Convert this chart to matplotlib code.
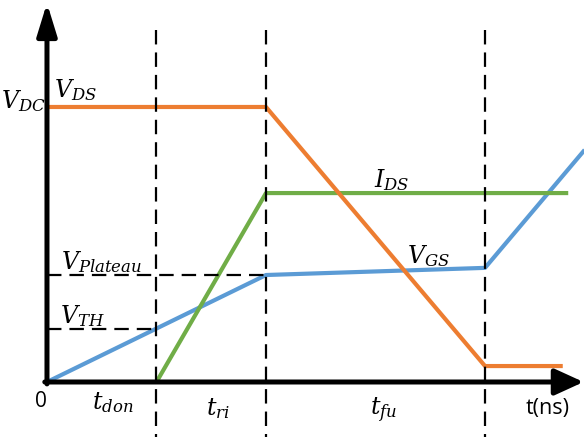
import numpy as np
import matplotlib.pyplot as plt

plt.rcParams['mathtext.fontset'] = 'dejavuserif'

# time breakpoints (t_don, t_ri, t_fu boundaries), arbitrary units
t_edges = [1.0, 2.0, 4.0]

# drain-source voltage
vds_t = [0.0, 2.0, 4.0, 4.71]
vds_v = [10.0, 10.0, 0.58, 0.58]

# drain current
ids_t = [1.0, 2.0, 4.76]
ids_v = [0.0, 6.87, 6.87]

# gate-source voltage
vgs_t = [0.0, 2.0, 4.0, 4.91]
vgs_v = [0.0, 3.89, 4.15, 8.44]

v_th = 1.93
v_plateau = 3.89

orange = '#ED7D31'
green = '#70AD47'
blue = '#5B9BD5'

fig = plt.figure(figsize=(5.84, 4.37), dpi=100)
ax = fig.add_axes([0, 0, 1, 1])
ax.set_xlim(-0.429, 4.904)
ax.set_ylim(-2.0, 13.89)
ax.axis('off')

# signals
ax.plot(vgs_t, vgs_v, color=blue, lw=3, solid_capstyle='butt', zorder=3)
ax.plot(ids_t, ids_v, color=green, lw=3, solid_capstyle='butt', zorder=3)
ax.plot(vds_t, vds_v, color=orange, lw=3, solid_capstyle='butt', zorder=3)

# interval boundaries (drawn top-down so the dash pattern starts at the top)
dash = dict(color='k', lw=1.6, dashes=(6.5, 3.6), zorder=4)
for t in t_edges:
    ax.plot([t, t], [12.8, -2.0], **dash)
# threshold levels
ax.plot([0, t_edges[1]], [v_plateau, v_plateau], **dash)
ax.plot([0, t_edges[0]], [v_th, v_th], **dash)

# axes with arrow heads
ax.annotate('', xy=(0, 13.78), xytext=(0, -0.07), annotation_clip=False,
            arrowprops=dict(arrowstyle='-|>,head_length=1.95,head_width=0.6',
                            mutation_scale=10, lw=3.6, color='k',
                            shrinkA=0, shrinkB=0), zorder=5)
ax.annotate('', xy=(4.9, 0), xytext=(-0.02, 0), annotation_clip=False,
            arrowprops=dict(arrowstyle='-|>,head_length=1.75,head_width=0.8',
                            mutation_scale=10, lw=3.6, color='k',
                            shrinkA=0, shrinkB=0), zorder=5)

fs = 17
ax.text(-0.01, 10.2, r'$V_{DC}$', fontsize=fs, ha='right', va='center')
ax.text(0.06, 10.6, r'$V_{DS}$', fontsize=fs, ha='left', va='center')
ax.text(3.15, 7.35, r'$I_{DS}$', fontsize=fs, ha='center', va='center')
ax.text(3.48, 4.58, r'$V_{GS}$', fontsize=fs, ha='center', va='center')
ax.text(0.50, 4.36, r'$V_{Plateau}$', fontsize=fs, ha='center', va='center')
ax.text(0.32, 2.40, r'$V_{TH}$', fontsize=fs, ha='center', va='center')
ax.text(3.07, -1.02, r'$t_{fu}$', fontsize=fs, ha='center', va='center')
ax.text(1.56, -0.95, r'$t_{ri}$', fontsize=fs, ha='center', va='center')
ax.text(0.60, -0.76, r'$t_{don}$', fontsize=fs, ha='center', va='center')
ax.text(-0.055, -0.70, '0', fontsize=15, ha='center', va='center', family='Open Sans')
ax.text(4.575, -0.98, 't(ns)', fontsize=15.5, ha='center', va='center', family='Open Sans')

fig.savefig('out.png', dpi=100)
